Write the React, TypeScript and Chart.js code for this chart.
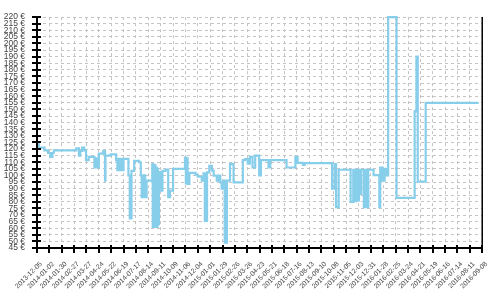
import React, { useEffect, useRef } from 'react';
import { Chart, registerables } from 'chart.js';

Chart.register(...registerables);

// X tick labels (every 28 days starting 2013-12-05)
const tickLabels = [
  '2013-12-05', '2014-01-02', '2014-01-30', '2014-02-27', '2014-03-27', '2014-04-24',
  '2014-05-22', '2014-06-19', '2014-07-17', '2014-08-14', '2014-09-11', '2014-10-09',
  '2014-11-06', '2014-12-04', '2015-01-01', '2015-01-29', '2015-02-26', '2015-03-26',
  '2015-04-23', '2015-05-21', '2015-06-18', '2015-07-16', '2015-08-13', '2015-09-10',
  '2015-10-08', '2015-11-05', '2015-12-03', '2015-12-31', '2016-01-28', '2016-02-25',
  '2016-03-24', '2016-04-21', '2016-05-19', '2016-06-16', '2016-07-14', '2016-08-11',
  '2016-09-08',
];
const tickStepDays = 28;

// Day offsets since 2013-12-05
const days = [
  0, 4, 17, 25, 30, 35, 38, 89, 95, 98, 102, 107, 111, 117, 130, 132, 133, 135, 137, 140, 150, 154,
  155, 167, 179, 182, 184, 186, 188, 190, 192, 194, 196, 207, 210, 214, 220, 231, 235, 237, 241, 245, 248,
  261, 262, 264, 265, 267, 268, 270, 271, 273, 274, 276, 279, 284, 291, 297, 301, 308, 335, 337, 339, 341, 345, 359, 364, 373,
  377, 380, 385, 390, 396, 400, 407, 410, 415, 418, 422, 425, 430, 437, 445, 466, 471, 477,
  482, 488, 494, 503, 507, 524, 528, 565, 585, 590, 602, 606, 668, 674, 677, 683, 710, 716,
  719, 723, 725, 729, 731, 734, 740, 743, 745, 750, 762, 775, 777, 782, 787, 791, 795, 814,
  855, 859, 862, 880, 1000,
];

// Prices in €
const prices = [
  125, 121, 119, 117, 114, 117, 119, 120.5, 115, 118.5, 121, 119, 111.5, 114, 106, 113, 106, 113, 106, 116.5, 118.5, 96,
  115, 116, 111.5, 104, 112.5, 104, 112.5, 104, 112.5, 104, 112.5, 100, 67.5, 103.5, 111, 110, 100, 83.5, 100, 83.5, 96,
  108.5, 61, 108, 61, 108, 61, 106, 61, 105, 63, 102.5, 88.5, 103.5, 104.5, 83.5, 88.5, 105, 113.5, 94, 113, 93.5, 102, 100.5, 99, 96,
  101.6, 65.5, 102.3, 107.3, 103.6, 99.8, 96, 99.8, 94.8, 90, 96, 49, 96, 108.6, 94.8, 111.6, 112.4, 109,
  114.1, 106, 115, 100, 111.6, 106, 111.6, 106, 114, 109.5, 108, 109.4, 90, 108.6, 76, 104.3, 80, 104.3,
  80.5, 104.3, 81, 104.3, 86, 104.3, 76, 104.3, 76, 104.3, 100.3, 76, 106, 96, 104.9, 100, 220, 83,
  148.6, 190, 95.3, 155, 155,
];

const yMin = 45;
const yMax = 220;
const yStep = 5;

const FONT = '"Liberation Sans", Arial, sans-serif';

const axesPlugin = {
  id: 'customAxes',
  afterDraw(chart: any) {
    const { ctx, chartArea } = chart;
    const { left, right, top, bottom } = chartArea;
    const xs = chart.scales.x;
    const ys = chart.scales.y;
    ctx.save();
    ctx.strokeStyle = '#000';
    ctx.lineWidth = 2;
    ctx.beginPath();
    ctx.moveTo(left, top);
    ctx.lineTo(left, bottom);
    ctx.lineTo(right, bottom);
    ctx.stroke();
    ctx.beginPath();
    for (const t of ys.ticks) {
      const p = Math.round(ys.getPixelForValue(t.value));
      ctx.moveTo(left - 5, p);
      ctx.lineTo(left + 4, p);
    }
    for (const t of xs.ticks) {
      const p = Math.round(xs.getPixelForValue(t.value));
      ctx.moveTo(p, bottom - 3);
      ctx.lineTo(p, bottom + 5);
    }
    ctx.stroke();
    ctx.lineWidth = 1.5;
    ctx.beginPath();
    ctx.moveTo(right, top);
    ctx.lineTo(right, bottom);
    ctx.stroke();
    ctx.restore();
  },
};

export default function App() {
  const ref = useRef<HTMLCanvasElement>(null);
  useEffect(() => {
    document.body.style.margin = '0';
    const canvas = ref.current!;
    const chart = new Chart(canvas, {
      type: 'line',
      data: {
        datasets: [
          {
            data: days.map((d, i) => ({ x: d, y: prices[i] })),
            borderColor: '#87ceeb',
            borderWidth: 2.2,
            stepped: 'before',
            pointRadius: 0,
            fill: false,
            clip: false as any,
          },
        ],
      },
      options: {
        animation: false,
        responsive: false,
        maintainAspectRatio: false,
        layout: { padding: { top: 15, right: 15, left: 0, bottom: 0 } },
        plugins: { legend: { display: false }, tooltip: { enabled: false } },
        scales: {
          x: {
            type: 'linear',
            min: 0,
            max: (tickLabels.length - 1) * tickStepDays,
            afterBuildTicks: (s: any) => {
              s.ticks = tickLabels.map((_, i) => ({ value: i * tickStepDays }));
            },
            afterFit: (s: any) => {
              s.height = 52;
            },
            ticks: {
              autoSkip: false,
              minRotation: 45,
              maxRotation: 45,
              padding: 12,
              labelOffset: 4,
              color: '#444',
              font: { family: FONT, size: 6.8 },
              callback: (_v: any, i: number) => tickLabels[i],
            },
            grid: { color: '#c4c4c4', lineWidth: 1, drawTicks: false },
            border: { display: false, dash: [3, 3] },
          },
          y: {
            type: 'linear',
            min: yMin,
            max: yMax,
            afterBuildTicks: (s: any) => {
              const t = [];
              for (let v = yMin; v <= yMax; v += yStep) t.push({ value: v });
              s.ticks = t;
            },
            afterFit: (s: any) => {
              s.width = 37;
            },
            ticks: {
              autoSkip: false,
              padding: 12,
              color: '#444',
              font: { family: FONT, size: 8.5 },
              callback: (v: any) => `${v} €`,
            },
            grid: { color: '#c4c4c4', lineWidth: 1, drawTicks: false },
            border: { display: false, dash: [3, 3] },
          },
        },
      },
      plugins: [axesPlugin],
    });
    return () => chart.destroy();
  }, []);
  return (
    <div style={{ position: 'absolute', left: 0, top: 0, width: 500, height: 300 }}>
      <canvas ref={ref} width={500} height={300} style={{ width: 500, height: 300, display: 'block' }} />
    </div>
  );
}
